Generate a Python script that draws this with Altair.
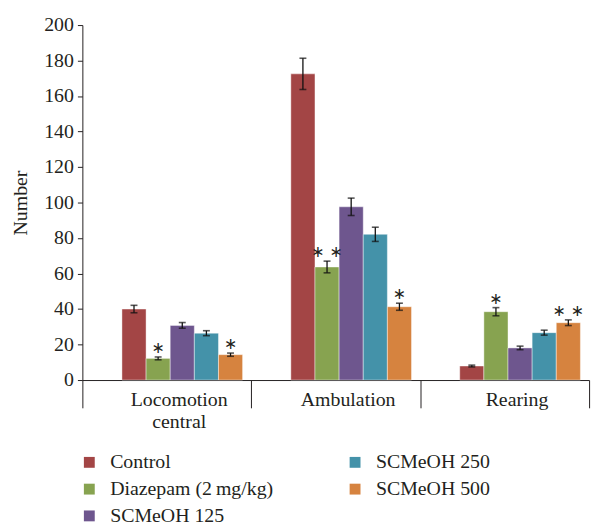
import altair as alt
import pandas as pd

categories = ["Locomotion central", "Ambulation", "Rearing"]
groups = ["Control", "Diazepam (2\u2009mg/kg)", "SCMeOH 125", "SCMeOH 250", "SCMeOH 500"]
colors = ["#A34545", "#87A350", "#6E568E", "#4492A9", "#D6833F"]

values_loc = [40.0, 12.2, 30.8, 26.4, 14.3]
values_amb = [172.5, 63.7, 97.6, 82.1, 41.3]
values_rear = [7.9, 38.5, 18.1, 26.7, 32.3]

err_loc = [2.1, 0.8, 1.6, 1.4, 0.9]
err_amb = [8.8, 3.3, 4.9, 4.0, 2.0]
err_rear = [0.5, 2.3, 1.0, 1.4, 1.6]

sig_loc = ["", "\u2217", "", "", "\u2217"]
sig_amb = ["", "\u2217 \u2217", "", "", "\u2217"]
sig_rear = ["", "\u2217", "", "", "\u2217 \u2217"]

y_ticks = [0, 20, 40, 60, 80, 100, 120, 140, 160, 180, 200]

rows = []
for cat, vals, errs, sigs in zip(categories,
                                 [values_loc, values_amb, values_rear],
                                 [err_loc, err_amb, err_rear],
                                 [sig_loc, sig_amb, sig_rear]):
    for g, v, e, s in zip(groups, vals, errs, sigs):
        rows.append({"cat": cat, "group": g, "value": v,
                     "lo": v - e, "hi": v + e, "sig": s})
df = pd.DataFrame(rows)

FONT = "Liberation Serif"

# legend order arranged so a row-major 2-column legend reads column-wise
legend_order = [groups[0], groups[3], groups[1], groups[4], groups[2]]
legend_colors = [colors[0], colors[3], colors[1], colors[4], colors[2]]

x = alt.X("cat:N", sort=categories, title=None,
          scale=alt.Scale(paddingInner=0, paddingOuter=0),
          axis=alt.Axis(labelAngle=0, tickBand="extent", tickSize=28,
                        labelPadding=-18, labelOffset=12,
                        labelExpr="split(datum.label, ' ')",
                        labelFont=FONT, labelFontSize=20, labelColor="#231F20",
                        labelLineHeight=22,
                        domainColor="#231F20", tickColor="#231F20",
                        labelBaseline="top"))
xo = alt.XOffset("group:N", sort=groups,
                 scale=alt.Scale(domain=groups, paddingInner=0,
                                 paddingOuter=1, align=0.82))
yscale = alt.Scale(domain=[0, 200], nice=False)
yaxis = alt.Axis(values=y_ticks, grid=False,
                 tickSize=5, labelPadding=4, labelOverlap=False,
                 labelFont=FONT, labelFontSize=20, labelColor="#231F20",
                 titleFont=FONT, titleFontSize=20, titleFontWeight="normal",
                 titleColor="#231F20", titlePadding=13,
                 domainColor="#231F20", tickColor="#231F20")

base = alt.Chart(df)

bars = base.mark_bar(stroke="white", strokeWidth=0.6, strokeOpacity=0.7).encode(
    x=x,
    xOffset=xo,
    y=alt.Y("value:Q", title="Number", scale=yscale, axis=yaxis),
    color=alt.Color("group:N",
                    scale=alt.Scale(domain=legend_order, range=legend_colors),
                    legend=alt.Legend(title=None, orient="none", legendX=-3,
                                      legendY=431, columns=2, direction="horizontal",
                                      symbolType="square", symbolSize=120,
                                      symbolStrokeWidth=0, labelFont=FONT,
                                      labelFontSize=20, labelColor="#231F20",
                                      labelOffset=11, rowPadding=7,
                                      columnPadding=72, labelLimit=300)),
)

rule = base.mark_rule(color="#111111", strokeWidth=1.3).encode(
    x=x, xOffset=xo, y=alt.Y("lo:Q", title="Number", scale=yscale, axis=yaxis),
    y2="hi:Q")
cap_lo = base.mark_tick(color="#111111", size=7, thickness=1.6).encode(
    x=x, xOffset=xo, y=alt.Y("lo:Q", title="Number", scale=yscale, axis=yaxis))
cap_hi = base.mark_tick(color="#111111", size=7, thickness=1.6).encode(
    x=x, xOffset=xo, y=alt.Y("hi:Q", title="Number", scale=yscale, axis=yaxis))
stars = base.mark_text(font="DejaVu Sans", fontSize=16, dy=-9,
                       baseline="middle", color="#231F20").encode(
    x=x, xOffset=xo, y=alt.Y("hi:Q", title="Number", scale=yscale, axis=yaxis),
    text="sig:N")

chart = alt.layer(bars, rule, cap_lo, cap_hi, stars).properties(
    width=511, height=358,
    padding={"left": 75, "top": 15, "right": 10, "bottom": 146},
    autosize="none",
).configure_view(stroke=None).configure_axis(labelOverlap=False)

chart.save("out.html", embed_options={"renderer": "svg", "actions": False})
